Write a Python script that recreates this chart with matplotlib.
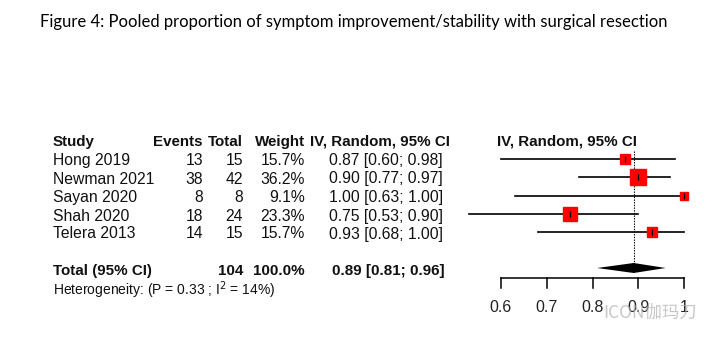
import matplotlib
matplotlib.use("Agg")
import matplotlib.pyplot as plt

studies = ["Hong 2019", "Newman 2021", "Sayan 2020", "Shah 2020", "Telera 2013"]
events = [13, 38, 8, 18, 14]
totals = [15, 42, 8, 24, 15]
weights = [15.7, 36.2, 9.1, 23.3, 15.7]
est = [0.87, 0.90, 1.00, 0.75, 0.93]
lo = [0.60, 0.77, 0.63, 0.53, 0.68]
hi = [0.98, 0.97, 1.00, 0.90, 1.00]
pooled = (0.89, 0.81, 0.96)
total_n = 104
het_text = "Heterogeneity: (P = 0.33 ; I$^2$ = 14%)"
ticks = [0.6, 0.7, 0.8, 0.9, 1.0]
tick_labels = ["0.6", "0.7", "0.8", "0.9", "1"]

W, H = 722, 345
fig = plt.figure(figsize=(W / 100, H / 100), dpi=100)
fig.patch.set_facecolor("white")

FONT = "Liberation Sans"
FS = 11.3
FSB = 10.9

def px(x, y):
    return x / W, 1 - y / H

def ftext(x, y, s, **kw):
    kw.setdefault("family", FONT)
    kw.setdefault("fontsize", FS)
    kw.setdefault("va", "center")
    kw.setdefault("color", "#111111")
    fig.text(*px(x, y), s, **kw)

# title
ftext(40, 22, "Figure 4: Pooled proportion of symptom improvement/stability with surgical resection",
      family="Lato", fontsize=12.0, color="#000000")

# axes for forest (x data, y pixel rows)
x0, x1 = 501, 684
ax = fig.add_axes([x0 / W, 0, (x1 - x0) / W, 1])
ax.set_xlim(0.6, 1.0)
ax.set_ylim(H, 0)
ax.axis("off")

row_y = [158.5, 177, 195.5, 214, 232]
tot_y = 268
hdr_y = 142

# headers
ftext(53, hdr_y, "Study", fontweight="bold", fontsize=FSB)
ftext(203, hdr_y, "Events", fontweight="bold", ha="right", fontsize=FSB)
ftext(243, hdr_y, "Total", fontweight="bold", ha="right", fontsize=FSB)
ftext(305, hdr_y, "Weight", fontweight="bold", ha="right", fontsize=FSB)
ftext(450, hdr_y, "IV, Random, 95% CI", fontweight="bold", ha="right", fontsize=FSB)
ftext(497, hdr_y, "IV, Random, 95% CI", fontweight="bold", fontsize=FSB)

for i, s in enumerate(studies):
    y = row_y[i] + 2
    ftext(53, y, s)
    ftext(203, y, f"{events[i]}", ha="right")
    ftext(243, y, f"{totals[i]}", ha="right")
    ftext(305, y, f"{weights[i]:.1f}%", ha="right")
    ftext(443, y, f"{est[i]:.2f} [{lo[i]:.2f}; {hi[i]:.2f}]", ha="right")

ftext(53, tot_y + 3, "Total (95% CI)", fontweight="bold", fontsize=FSB)
ftext(243, tot_y + 3, f"{total_n}", fontweight="bold", ha="right", fontsize=FSB)
ftext(305, tot_y + 3, f"{sum(weights):.1f}%", fontweight="bold", ha="right", fontsize=FSB)
ftext(445, tot_y + 3, f"{pooled[0]:.2f} [{pooled[1]:.2f}; {pooled[2]:.2f}]", fontweight="bold", ha="right", fontsize=FSB)
ftext(53, 290, het_text, fontsize=10.0)

# dotted pooled line
ax.plot([pooled[0], pooled[0]], [151, 265], color="black", lw=0.8, ls=(0, (1.2, 1.2)), clip_on=False, zorder=1)

maxw = max(weights)
for i in range(len(studies)):
    y = row_y[i]
    ax.plot([lo[i], hi[i]], [y, y], color="black", lw=1.2, clip_on=False, zorder=2)
    size = 12 * (weights[i] / maxw) ** 0.5
    ax.plot([est[i]], [y], marker="s", ms=size, color="red", mec="red", clip_on=False, zorder=3)
    ax.plot([est[i]], [y], marker="|", ms=5, mew=0.9, color="black", clip_on=False, zorder=4)

# diamond
p, l, h = pooled
ax.fill([l, p, h, p], [tot_y, tot_y - 5, tot_y, tot_y + 5], color="black", lw=0, clip_on=False, zorder=3)

# x axis
ax.plot([ticks[0], ticks[-1]], [278, 278], color="black", lw=1.1, clip_on=False)
for t, lab in zip(ticks, tick_labels):
    ax.plot([t, t], [278, 288], color="black", lw=1.1, clip_on=False)
    ax.text(t, 308, lab, ha="center", va="center", family=FONT, fontsize=11.5, color="#222222")

# watermark
ftext(603, 313, "ICON伽玛刀", family=["Noto Sans CJK SC", "DejaVu Sans"], fontsize=12.5,
      color="#b0b0b0", alpha=0.7)

fig.savefig("out.png", dpi=100, facecolor="white")
